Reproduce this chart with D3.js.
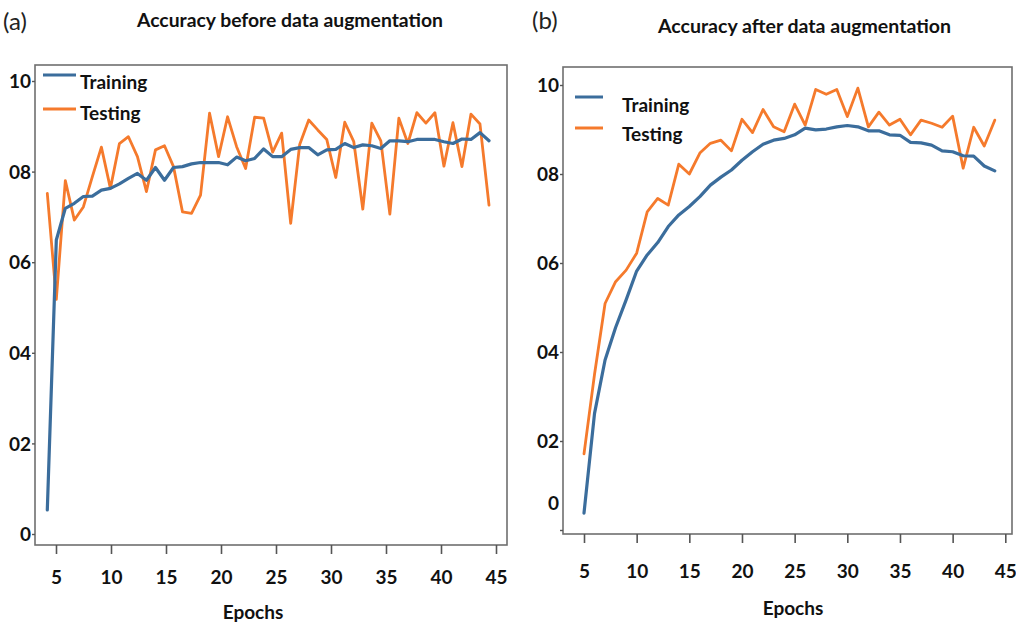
<!DOCTYPE html>
<html>
<head>
<meta charset="utf-8">
<script src="https://cdn.jsdelivr.net/npm/d3@7"></script>
<style>
  body { margin: 0; background: #fff; }
  svg { display: block; }
  text { font-family: Lato, "Open Sans", sans-serif; }
</style>
</head>
<body>
<svg id="chart" width="1016" height="623"></svg>
<script>
// ---- data ----
const xTickValues = [5, 10, 15, 20, 25, 30, 35, 40, 45];
const yTickValues = [0, 0.2, 0.4, 0.6, 0.8, 1.0];
const yTickLabels = ["0", "02", "04", "06", "08", "10"];

// panel (a): 50 recorded points, spaced tighter than the printed epoch ticks
const pointIndexA = d3.range(1, 51);
const trainA = [0.053, 0.649, 0.719, 0.730, 0.745, 0.746, 0.759, 0.763, 0.773, 0.785,
  0.796, 0.781, 0.809, 0.781, 0.809, 0.811, 0.817, 0.820, 0.820, 0.820,
  0.815, 0.832, 0.824, 0.829, 0.850, 0.833, 0.833, 0.849, 0.853, 0.853,
  0.837, 0.848, 0.849, 0.862, 0.853, 0.859, 0.857, 0.851, 0.868, 0.868,
  0.866, 0.871, 0.871, 0.871, 0.866, 0.862, 0.872, 0.871, 0.886, 0.868];
const testA = [0.752, 0.518, 0.780, 0.693, 0.722, 0.789, 0.854, 0.763, 0.862, 0.877,
  0.833, 0.756, 0.848, 0.857, 0.811, 0.711, 0.708, 0.748, 0.929, 0.833,
  0.921, 0.855, 0.807, 0.920, 0.918, 0.843, 0.885, 0.686, 0.860, 0.914,
  0.892, 0.871, 0.787, 0.909, 0.866, 0.717, 0.907, 0.868, 0.706, 0.918,
  0.862, 0.930, 0.907, 0.930, 0.812, 0.908, 0.811, 0.927, 0.905, 0.726];

// panel (b): epochs 5..44
const epochsB = d3.range(5, 45);
const trainB = [0.038, 0.262, 0.382, 0.455, 0.517, 0.582, 0.618, 0.646, 0.682, 0.708,
  0.727, 0.749, 0.775, 0.793, 0.809, 0.831, 0.850, 0.867, 0.876, 0.880,
  0.888, 0.903, 0.899, 0.901, 0.906, 0.909, 0.906, 0.897, 0.897, 0.888,
  0.887, 0.871, 0.870, 0.865, 0.852, 0.850, 0.841, 0.840, 0.818, 0.807];
const testB = [0.171, 0.350, 0.509, 0.558, 0.584, 0.622, 0.715, 0.745, 0.730, 0.822,
  0.800, 0.847, 0.869, 0.876, 0.852, 0.923, 0.893, 0.945, 0.906, 0.895,
  0.957, 0.910, 0.990, 0.979, 0.990, 0.929, 0.993, 0.906, 0.939, 0.910,
  0.923, 0.888, 0.921, 0.914, 0.905, 0.930, 0.813, 0.905, 0.863, 0.921];

const seriesNames = ["Training", "Testing"];
const colors = { Training: "#3b6d9c", Testing: "#f57a2c" };

const svg = d3.select("#chart");

function drawPanel(p) {
  const g = svg.append("g");

  const xTick = d3.scaleLinear().domain([5, 45]).range(p.xTickRange);
  const xPt = d3.scaleLinear().domain(p.ptDomain).range(p.ptRange);
  const y = d3.scaleLinear().domain([0, 1]).range(p.yRange);

  // panel letter and title
  g.append("text")
    .attr("x", p.letter.x).attr("y", p.letter.y)
    .attr("font-family", "'Liberation Sans', Arial, sans-serif")
    .attr("font-size", 24).attr("fill", "#222")
    .text(p.letter.text);

  g.append("text")
    .attr("x", p.title.x).attr("y", p.title.y)
    .attr("font-size", 19).attr("font-weight", 700).attr("fill", "#111")
    .attr("textLength", p.title.w).attr("lengthAdjust", "spacingAndGlyphs")
    .text(p.title.text);

  // frame
  g.append("rect")
    .attr("x", p.box.x0).attr("y", p.box.y0)
    .attr("width", p.box.x1 - p.box.x0).attr("height", p.box.y1 - p.box.y0)
    .attr("fill", "none").attr("stroke", "#6f6f6f").attr("stroke-width", 1.6);

  // x axis
  const xa = g.append("g")
    .attr("transform", `translate(0,${p.box.y1})`)
    .call(d3.axisBottom(xTick).tickValues(xTickValues).tickSize(p.xTickLen).tickSizeOuter(0));
  xa.select(".domain").remove();
  xa.selectAll("line").attr("stroke", "#555").attr("stroke-width", 1.6);
  xa.selectAll("text")
    .attr("y", p.xLabelOff).attr("dy", "0.35em")
    .attr("font-size", 19).attr("font-weight", 700).attr("fill", "#111")
    .attr("font-family", "Lato, sans-serif");

  // y axis
  const ya = g.append("g")
    .attr("transform", `translate(${p.box.x0},0)`)
    .call(d3.axisLeft(y).tickValues(yTickValues).tickSize(3).tickSizeOuter(0)
      .tickFormat((d, i) => yTickLabels[i]));
  ya.select(".domain").remove();
  ya.selectAll("line").attr("stroke", "#555").attr("stroke-width", 1.4);
  ya.selectAll("text")
    .attr("x", p.yLabelX - p.box.x0).attr("dy", "0.35em")
    .attr("font-size", 19).attr("font-weight", 700).attr("fill", "#111")
    .attr("font-family", "Lato, sans-serif");
  if (p.zeroLabelShift) {
    ya.selectAll(".tick").filter((d) => d === 0).select("text")
      .attr("y", p.zeroLabelShift);
  }

  g.append("text")
    .attr("x", p.xTitle.x).attr("y", p.xTitle.y)
    .attr("text-anchor", "middle").attr("dy", "0.35em")
    .attr("font-size", 19).attr("font-weight", 700).attr("fill", "#111")
    .text("Epochs");

  // series
  const line = d3.line().x((d) => xPt(d.x)).y((d) => y(d.v));
  const series = [
    { name: "Testing", values: p.test, w: 2.8 },
    { name: "Training", values: p.train, w: 3.2 },
  ];
  series.forEach((s) => {
    g.append("path")
      .datum(s.values.map((v, i) => ({ x: p.xs[i], v })))
      .attr("fill", "none")
      .attr("stroke", colors[s.name])
      .attr("stroke-width", s.w)
      .attr("stroke-linejoin", "round")
      .attr("stroke-linecap", "round")
      .attr("d", line);
  });

  // legend
  const lg = g.append("g");
  seriesNames.forEach((name, i) => {
    const row = p.legend.rows[i];
    lg.append("line")
      .attr("x1", p.legend.lx0).attr("x2", p.legend.lx1)
      .attr("y1", row.ly).attr("y2", row.ly)
      .attr("stroke", colors[name]).attr("stroke-width", 3);
    lg.append("text")
      .attr("x", p.legend.tx).attr("y", row.ty)
      .attr("font-size", 19).attr("font-weight", 700).attr("fill", "#111")
      .text(name);
  });
}

drawPanel({
  box: { x0: 35, y0: 65, x1: 507, y1: 545 },
  xTickRange: [56, 496],
  ptDomain: [1, 50], ptRange: [47.3, 489],
  xs: pointIndexA,
  yRange: [534, 81],
  train: trainA, test: testA,
  xTickLen: 9, xLabelOff: 32,
  yLabelX: 31,
  letter: { x: 3, y: 30, text: "(a)" },
  title: { x: 137, y: 27, w: 306, text: "Accuracy before data augmentation" },
  xTitle: { x: 253, y: 612 },
  legend: { lx0: 43, lx1: 76, tx: 80, rows: [{ ly: 75, ty: 89 }, { ly: 109, ty: 120 }] },
});

drawPanel({
  box: { x0: 563, y0: 67, x1: 1012, y1: 534 },
  xTickRange: [584, 1005.3],
  ptDomain: [5, 45], ptRange: [584, 1005.3],
  xs: epochsB,
  yRange: [530, 85],
  train: trainB, test: testB,
  xTickLen: 9, xLabelOff: 37.5,
  yLabelX: 559,
  zeroLabelShift: -27,
  letter: { x: 532, y: 29, text: "(b)" },
  title: { x: 658, y: 33, w: 293, text: "Accuracy after data augmentation" },
  xTitle: { x: 793, y: 608 },
  legend: { lx0: 575, lx1: 603, tx: 622, rows: [{ ly: 97, ty: 112 }, { ly: 128, ty: 141 }] },
});
</script>
</body>
</html>
